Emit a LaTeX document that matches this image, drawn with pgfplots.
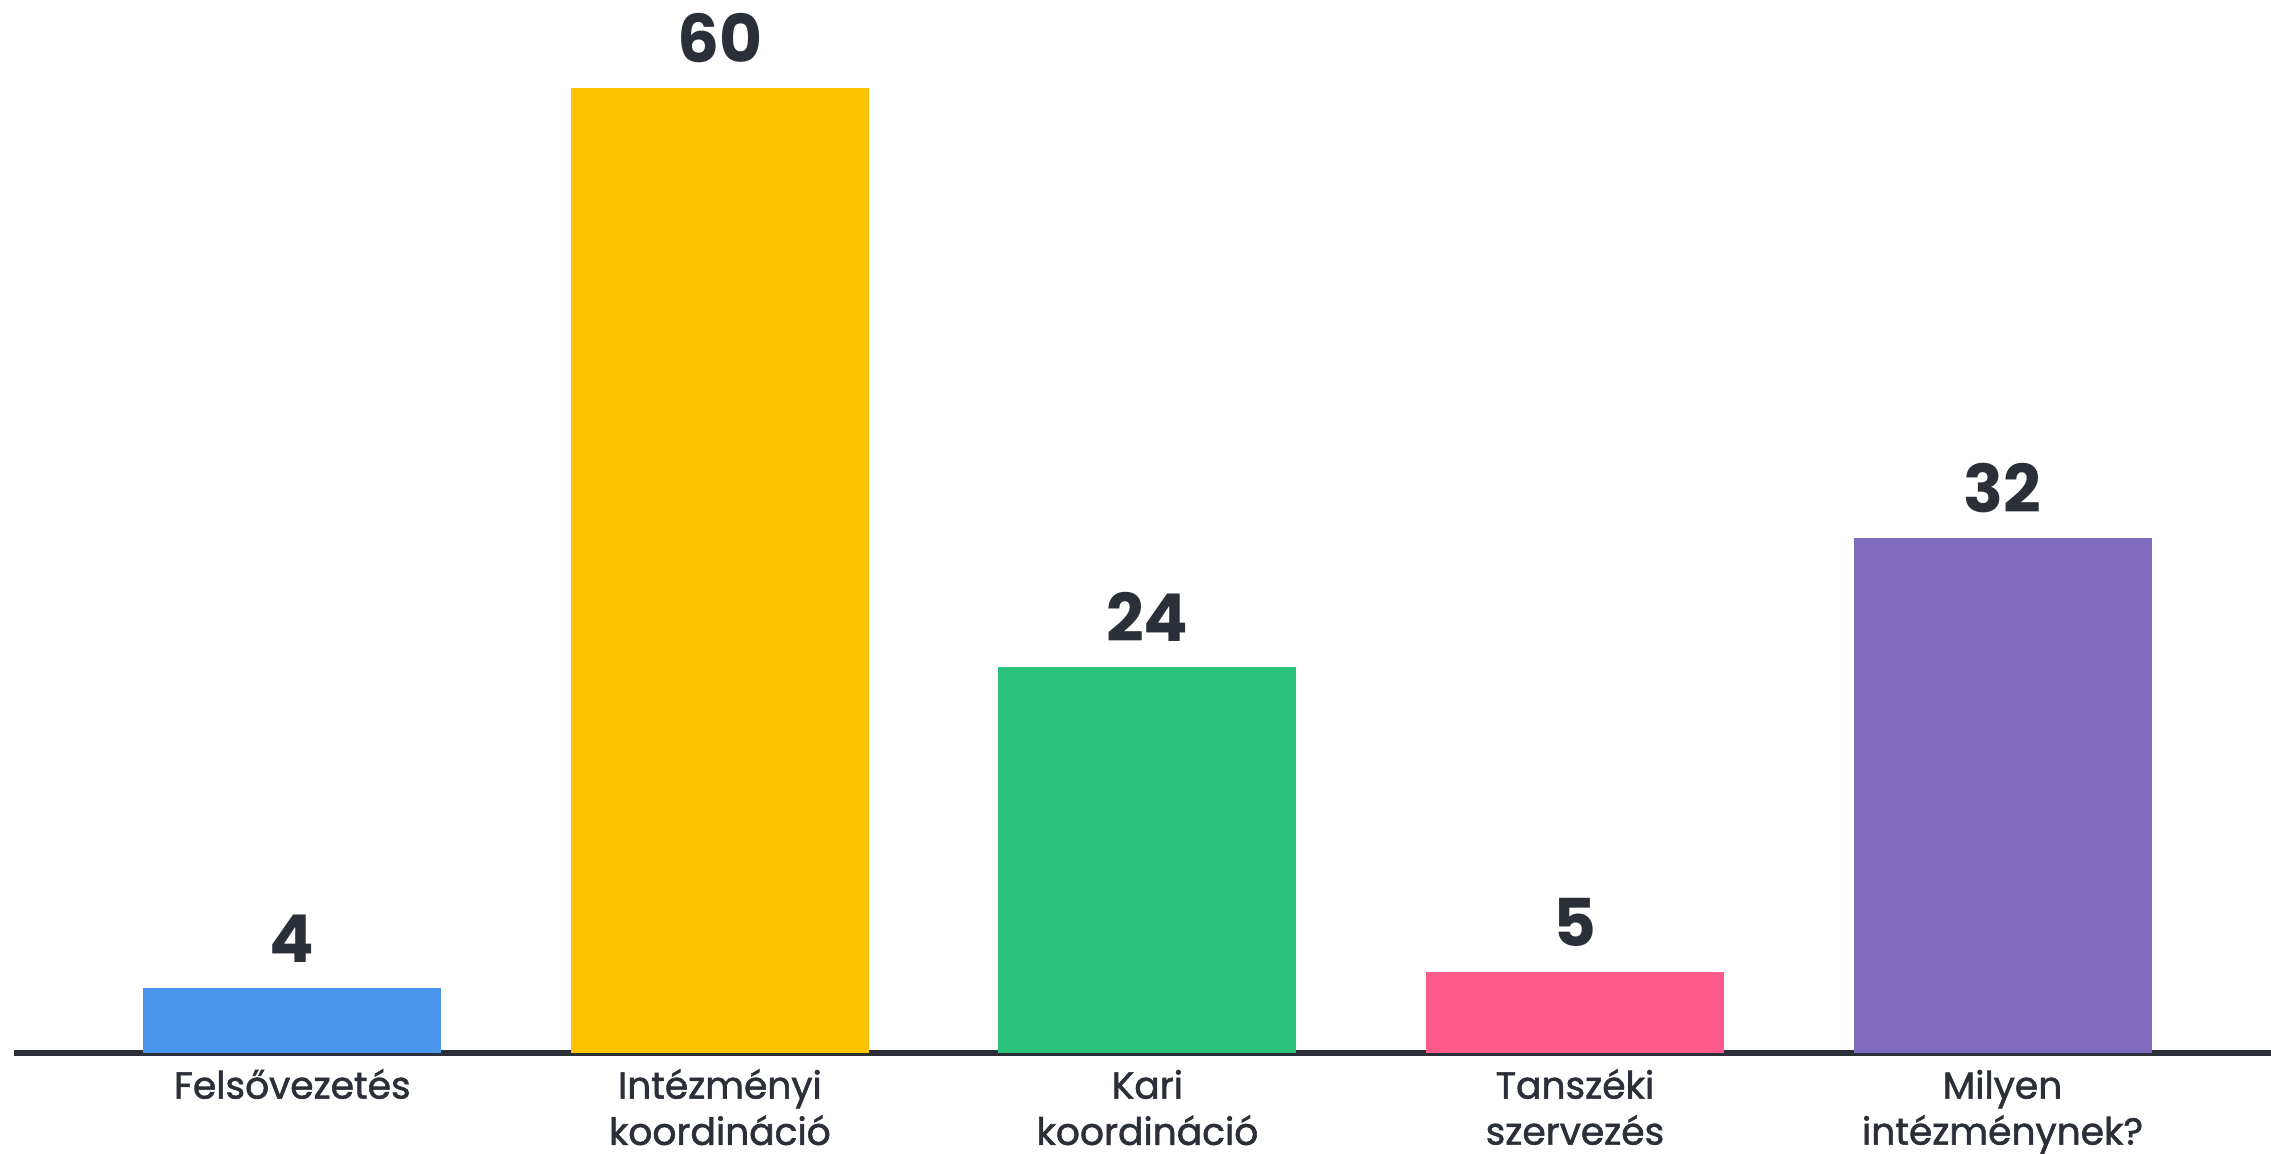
\documentclass[border=0pt]{standalone}
\usepackage{pgfplots}
\pgfplotsset{compat=1.18}
\usepackage{fontspec}
\setmainfont{Poppins}
\newfontfamily\labfont{Poppins}[FakeBold=1.5]

\definecolor{cBlue}{HTML}{4A96EC}
\definecolor{cYellow}{HTML}{FDC300}
\definecolor{cGreen}{HTML}{2BC27D}
\definecolor{cPink}{HTML}{FF5A8C}
\definecolor{cPurple}{HTML}{7E6BBD}
\definecolor{cText}{HTML}{2B2F38}

\begin{document}
\begin{tikzpicture}
\path[use as bounding box] (-3.6pt,-25.3pt) rectangle (564.15pt,263.2pt);
\begin{axis}[
    scale only axis,
    width=564.15pt, height=261.2pt,
    ybar, bar width=74.5pt,
    xmin=-0.650, xmax=4.628,
    ymin=0, ymax=65,
    axis x line*=bottom, axis y line=none,
    x axis line style={line width=1.5pt, color=cText},
    xtick={0,1,2,3,4},
    xticklabels={{\strut Felsővezetés}, {\strut Intézményi\\koordináció}, {\strut Kari\\koordináció}, {\strut Tanszéki\\szervezés}, {\strut Milyen\\intézménynek?}},
    major tick length=0pt,
    xticklabel style={align=center, font=\labfont\fontsize{9.4}{10.5}\selectfont, text=cText, anchor=north, inner sep=0pt, yshift=-3.9pt},
    /pgf/number format/assume math mode=true,
    nodes near coords,
    every node near coord/.append style={font=\fontsize{16.5}{18}\selectfont\bfseries, text=cText, anchor=south, inner sep=0pt, yshift=6.2pt},
    clip=false,
]
\addplot[fill=cBlue, draw=none, bar shift=0pt] coordinates {(0,4)};
\addplot[fill=cYellow, draw=none, bar shift=0pt] coordinates {(1,60)};
\addplot[fill=cGreen, draw=none, bar shift=0pt] coordinates {(2,24)};
\addplot[fill=cPink, draw=none, bar shift=0pt] coordinates {(3,5)};
\addplot[fill=cPurple, draw=none, bar shift=0pt] coordinates {(4,32)};
\end{axis}
\end{tikzpicture}
\end{document}
